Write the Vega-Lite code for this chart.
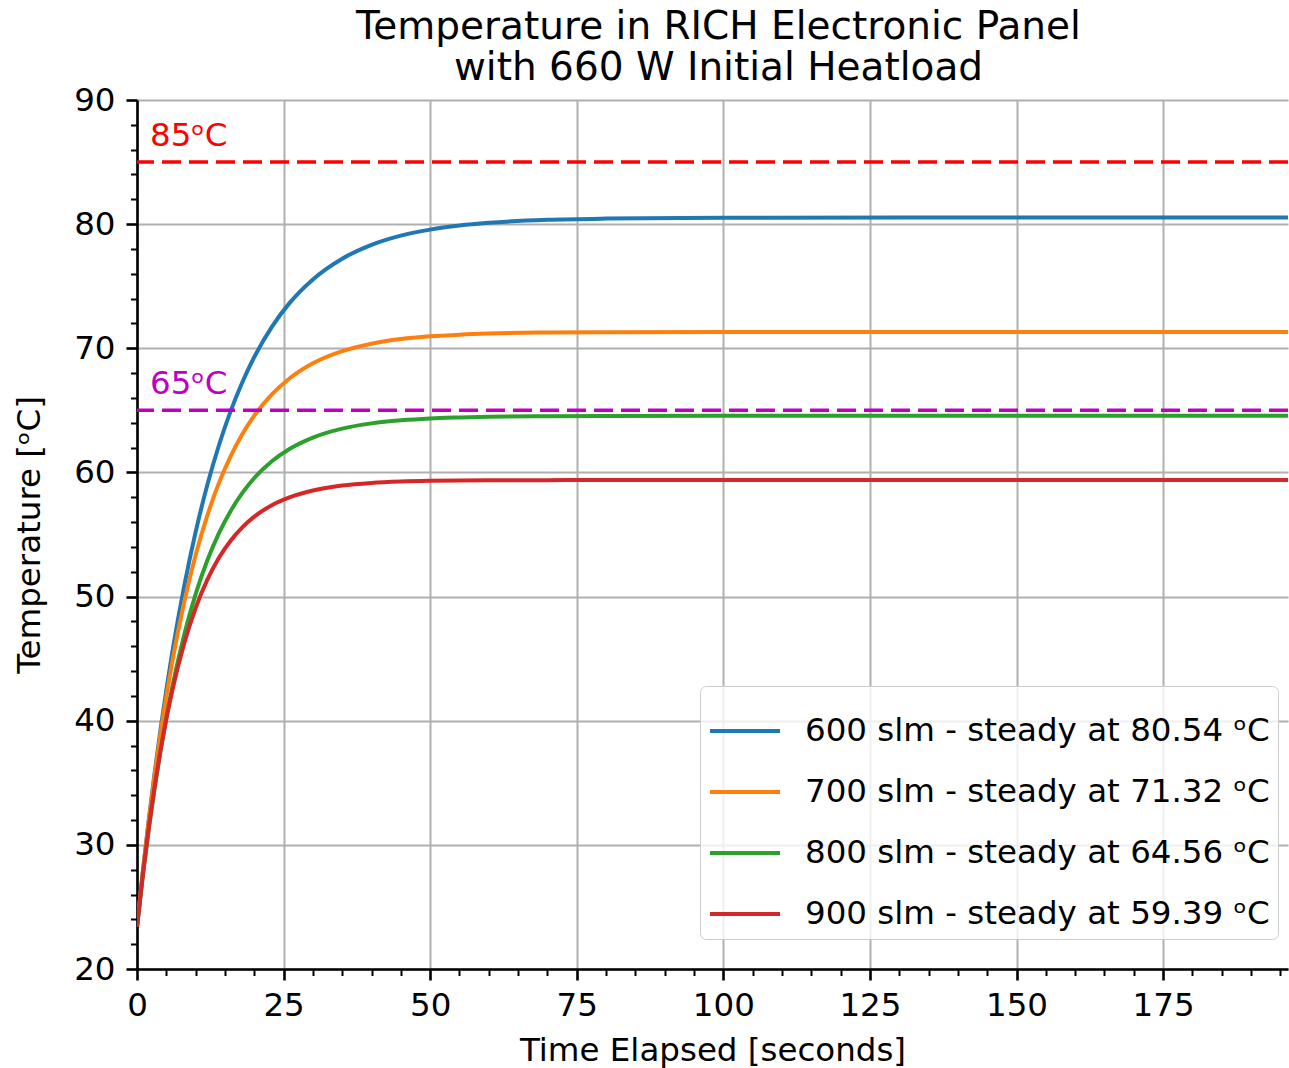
{
  "$schema": "https://vega.github.io/schema/vega-lite/v6.json",
  "width": 1151,
  "height": 869,
  "autosize": {"type": "none"},
  "padding": {"left": 137, "top": 100, "right": 1, "bottom": 99},
  "background": "white",
  "config": {
    "font": "DejaVu Sans",
    "view": {"stroke": null},
    "axis": {
      "labelFont": "DejaVu Sans",
      "titleFont": "DejaVu Sans",
      "labelFontSize": 32.5,
      "titleFontSize": 32.5,
      "titleFontWeight": "normal",
      "labelColor": "black",
      "titleColor": "black",
      "domainColor": "black",
      "domainWidth": 2.6,
      "tickColor": "black",
      "gridColor": "#b0b0b0",
      "gridWidth": 2
    }
  },
  "title": {
    "text": ["Temperature in RICH Electronic Panel", "with 660 W Initial Heatload"],
    "fontSize": 39,
    "fontWeight": "normal",
    "font": "DejaVu Sans",
    "color": "black",
    "anchor": "middle",
    "lineHeight": 41,
    "offset": -4,
    "dx": 6
  },
  "datasets": {
    "series": [
      {"flow": 600, "label": "600 slm - steady at 80.54 ᵒC"},
      {"flow": 700, "label": "700 slm - steady at 71.32 ᵒC"},
      {"flow": 800, "label": "800 slm - steady at 64.56 ᵒC"},
      {"flow": 900, "label": "900 slm - steady at 59.39 ᵒC"}
    ],
    "limits": [
      {"limit": 85, "text": "85ᵒC"},
      {"limit": 65, "text": "65ᵒC"}
    ],
    "curves": [
      {"flow": 600, "t": 0, "T": 23.40}, {"flow": 600, "t": 1, "T": 27.86}, {"flow": 600, "t": 2, "T": 31.98}, {"flow": 600, "t": 3, "T": 35.77},
      {"flow": 600, "t": 4, "T": 39.26}, {"flow": 600, "t": 5, "T": 42.48}, {"flow": 600, "t": 6, "T": 45.46}, {"flow": 600, "t": 8, "T": 50.72},
      {"flow": 600, "t": 10, "T": 55.20}, {"flow": 600, "t": 12, "T": 59.00}, {"flow": 600, "t": 14, "T": 62.23}, {"flow": 600, "t": 16, "T": 64.98},
      {"flow": 600, "t": 18, "T": 67.31}, {"flow": 600, "t": 20, "T": 69.30}, {"flow": 600, "t": 23, "T": 71.73}, {"flow": 600, "t": 26, "T": 73.64},
      {"flow": 600, "t": 30, "T": 75.55}, {"flow": 600, "t": 35, "T": 77.22}, {"flow": 600, "t": 40, "T": 78.33}, {"flow": 600, "t": 45, "T": 79.07},
      {"flow": 600, "t": 50, "T": 79.56}, {"flow": 600, "t": 55, "T": 79.89}, {"flow": 600, "t": 60, "T": 80.11}, {"flow": 600, "t": 70, "T": 80.35},
      {"flow": 600, "t": 80, "T": 80.45}, {"flow": 600, "t": 100, "T": 80.52}, {"flow": 600, "t": 130, "T": 80.54}, {"flow": 600, "t": 160, "T": 80.54},
      {"flow": 600, "t": 200, "T": 80.54},
      {"flow": 700, "t": 0, "T": 23.40}, {"flow": 700, "t": 1, "T": 27.88}, {"flow": 700, "t": 2, "T": 31.93}, {"flow": 700, "t": 3, "T": 35.61},
      {"flow": 700, "t": 4, "T": 38.94}, {"flow": 700, "t": 5, "T": 41.96}, {"flow": 700, "t": 6, "T": 44.71}, {"flow": 700, "t": 8, "T": 49.44},
      {"flow": 700, "t": 10, "T": 53.34}, {"flow": 700, "t": 12, "T": 56.54}, {"flow": 700, "t": 14, "T": 59.18}, {"flow": 700, "t": 16, "T": 61.34},
      {"flow": 700, "t": 18, "T": 63.12}, {"flow": 700, "t": 20, "T": 64.58}, {"flow": 700, "t": 23, "T": 66.29}, {"flow": 700, "t": 26, "T": 67.57},
      {"flow": 700, "t": 30, "T": 68.79}, {"flow": 700, "t": 35, "T": 69.77}, {"flow": 700, "t": 40, "T": 70.37}, {"flow": 700, "t": 45, "T": 70.74},
      {"flow": 700, "t": 50, "T": 70.96}, {"flow": 700, "t": 55, "T": 71.10}, {"flow": 700, "t": 60, "T": 71.19}, {"flow": 700, "t": 70, "T": 71.27},
      {"flow": 700, "t": 80, "T": 71.30}, {"flow": 700, "t": 100, "T": 71.32}, {"flow": 700, "t": 130, "T": 71.32}, {"flow": 700, "t": 160, "T": 71.32},
      {"flow": 700, "t": 200, "T": 71.32},
      {"flow": 800, "t": 0, "T": 23.40}, {"flow": 800, "t": 1, "T": 27.51}, {"flow": 800, "t": 2, "T": 31.21}, {"flow": 800, "t": 3, "T": 34.55},
      {"flow": 800, "t": 4, "T": 37.54}, {"flow": 800, "t": 5, "T": 40.24}, {"flow": 800, "t": 6, "T": 42.67}, {"flow": 800, "t": 8, "T": 46.83},
      {"flow": 800, "t": 10, "T": 50.19}, {"flow": 800, "t": 12, "T": 52.92}, {"flow": 800, "t": 14, "T": 55.13}, {"flow": 800, "t": 16, "T": 56.92},
      {"flow": 800, "t": 18, "T": 58.37}, {"flow": 800, "t": 20, "T": 59.55}, {"flow": 800, "t": 23, "T": 60.90}, {"flow": 800, "t": 26, "T": 61.89},
      {"flow": 800, "t": 30, "T": 62.81}, {"flow": 800, "t": 35, "T": 63.53}, {"flow": 800, "t": 40, "T": 63.95}, {"flow": 800, "t": 45, "T": 64.20},
      {"flow": 800, "t": 50, "T": 64.35}, {"flow": 800, "t": 55, "T": 64.43}, {"flow": 800, "t": 60, "T": 64.49}, {"flow": 800, "t": 70, "T": 64.53},
      {"flow": 800, "t": 80, "T": 64.55}, {"flow": 800, "t": 100, "T": 64.56}, {"flow": 800, "t": 130, "T": 64.56}, {"flow": 800, "t": 160, "T": 64.56},
      {"flow": 800, "t": 200, "T": 64.56},
      {"flow": 900, "t": 0, "T": 23.40}, {"flow": 900, "t": 1, "T": 27.63}, {"flow": 900, "t": 2, "T": 31.36}, {"flow": 900, "t": 3, "T": 34.65},
      {"flow": 900, "t": 4, "T": 37.56}, {"flow": 900, "t": 5, "T": 40.12}, {"flow": 900, "t": 6, "T": 42.39}, {"flow": 900, "t": 8, "T": 46.15},
      {"flow": 900, "t": 10, "T": 49.08}, {"flow": 900, "t": 12, "T": 51.36}, {"flow": 900, "t": 14, "T": 53.14}, {"flow": 900, "t": 16, "T": 54.52},
      {"flow": 900, "t": 18, "T": 55.60}, {"flow": 900, "t": 20, "T": 56.44}, {"flow": 900, "t": 23, "T": 57.36}, {"flow": 900, "t": 26, "T": 57.99},
      {"flow": 900, "t": 30, "T": 58.54}, {"flow": 900, "t": 35, "T": 58.94}, {"flow": 900, "t": 40, "T": 59.15}, {"flow": 900, "t": 45, "T": 59.26},
      {"flow": 900, "t": 50, "T": 59.32}, {"flow": 900, "t": 55, "T": 59.35}, {"flow": 900, "t": 60, "T": 59.37}, {"flow": 900, "t": 70, "T": 59.38},
      {"flow": 900, "t": 80, "T": 59.39}, {"flow": 900, "t": 100, "T": 59.39}, {"flow": 900, "t": 130, "T": 59.39}, {"flow": 900, "t": 160, "T": 59.39},
      {"flow": 900, "t": 200, "T": 59.39}
    ]
  },
  "layer": [
    {
      "data": {"name": "curves"},
      "transform": [
        {"lookup": "flow", "from": {"data": {"name": "series"}, "key": "flow", "fields": ["label"]}}
      ],
      "mark": {"type": "line", "strokeWidth": 4, "interpolate": "monotone", "clip": true},
      "encoding": {
        "x": {
          "field": "t",
          "type": "quantitative",
          "scale": {"domain": [0, 196.3], "nice": false, "zero": false},
          "axis": {
            "title": "Time Elapsed [seconds]",
            "values": [0, 5, 10, 15, 20, 25, 30, 35, 40, 45, 50, 55, 60, 65, 70, 75, 80, 85, 90, 95, 100, 105, 110, 115, 120, 125, 130, 135, 140, 145, 150, 155, 160, 165, 170, 175, 180, 185, 190, 195],
            "tickCount": 200,
            "format": "d",
            "labelExpr": "datum.value % 25 === 0 ? datum.label : ''",
            "tickSize": {"condition": {"test": "datum.value % 25 === 0", "value": 11}, "value": 6.5},
            "tickWidth": {"condition": {"test": "datum.value % 25 === 0", "value": 2.6}, "value": 2},
            "gridOpacity": {"condition": {"test": "datum.value % 25 === 0", "value": 1}, "value": 0},
            "grid": true,
            "labelPadding": 9,
            "labelFlush": false,
            "labelOverlap": false,
            "titlePadding": 13
          }
        },
        "y": {
          "field": "T",
          "type": "quantitative",
          "scale": {"domain": [20, 90], "nice": false, "zero": false},
          "axis": {
            "title": "Temperature [ᵒC]",
            "values": [20, 22, 24, 26, 28, 30, 32, 34, 36, 38, 40, 42, 44, 46, 48, 50, 52, 54, 56, 58, 60, 62, 64, 66, 68, 70, 72, 74, 76, 78, 80, 82, 84, 86, 88, 90],
            "tickCount": 200,
            "format": "d",
            "labelExpr": "datum.value % 10 === 0 ? datum.label : ''",
            "tickSize": {"condition": {"test": "datum.value % 10 === 0", "value": 11}, "value": 6.5},
            "tickWidth": {"condition": {"test": "datum.value % 10 === 0", "value": 2.6}, "value": 2},
            "gridOpacity": {"condition": {"test": "datum.value % 10 === 0", "value": 1}, "value": 0},
            "grid": true,
            "labelPadding": 11,
            "labelFlush": false,
            "labelOverlap": false,
            "titlePadding": 27
          }
        },
        "color": {
          "field": "label",
          "type": "nominal",
          "scale": {
            "domain": ["600 slm - steady at 80.54 ᵒC", "700 slm - steady at 71.32 ᵒC", "800 slm - steady at 64.56 ᵒC", "900 slm - steady at 59.39 ᵒC"],
            "range": ["#1f77b4", "#ff7f0e", "#2ca02c", "#d62728"]
          },
          "legend": {
            "title": null,
            "orient": "none",
            "legendX": 563,
            "legendY": 586,
            "symbolType": "stroke",
            "symbolSize": 4900,
            "symbolStrokeWidth": 4,
            "labelFont": "DejaVu Sans",
            "labelFontSize": 32.5,
            "labelColor": "black",
            "labelLimit": 0,
            "labelOffset": 23,
            "fillColor": "rgba(255,255,255,0.8)",
            "strokeColor": "#cccccc",
            "cornerRadius": 6,
            "padding": 8,
            "rowPadding": 7
          }
        }
      }
    },
    {
      "data": {"name": "limits"},
      "transform": [{"filter": "datum.limit === 85"}],
      "layer": [
        {
          "mark": {"type": "rule", "color": "#ff0000", "strokeWidth": 3.5, "strokeDash": [19, 8]},
          "encoding": {"y": {"field": "limit", "type": "quantitative"}}
        },
        {
          "mark": {"type": "text", "color": "#ff0000", "fontSize": 32.5, "font": "DejaVu Sans", "align": "left", "baseline": "alphabetic", "dx": 13, "dy": -16},
          "encoding": {"x": {"datum": 0}, "y": {"field": "limit", "type": "quantitative"}, "text": {"field": "text"}}
        }
      ]
    },
    {
      "data": {"name": "limits"},
      "transform": [{"filter": "datum.limit === 65"}],
      "layer": [
        {
          "mark": {"type": "rule", "color": "#bf00bf", "strokeWidth": 3.5, "strokeDash": [19, 8]},
          "encoding": {"y": {"field": "limit", "type": "quantitative"}}
        },
        {
          "mark": {"type": "text", "color": "#bf00bf", "fontSize": 32.5, "font": "DejaVu Sans", "align": "left", "baseline": "alphabetic", "dx": 13, "dy": -16},
          "encoding": {"x": {"datum": 0}, "y": {"field": "limit", "type": "quantitative"}, "text": {"field": "text"}}
        }
      ]
    },
    {
      "mark": {"type": "rule", "color": "black", "strokeWidth": 2.6},
      "encoding": {"y": {"datum": 90}}
    }
  ]
}
